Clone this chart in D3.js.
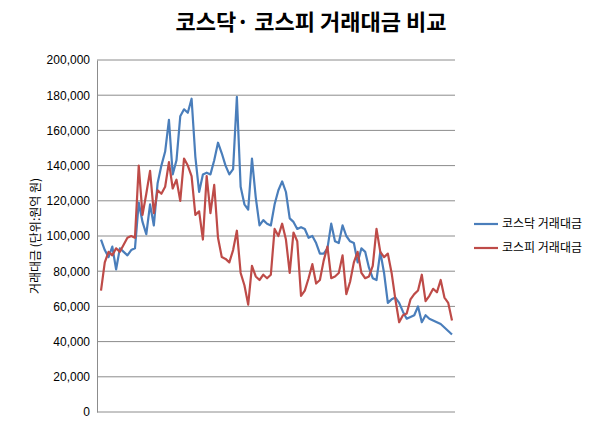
<!DOCTYPE html>
<html><head><meta charset="utf-8">
<script src="https://cdn.jsdelivr.net/npm/d3@7"></script>
<style>body{margin:0;background:#fff;font-family:"Noto Sans CJK KR",sans-serif}</style>
</head><body><svg id="chart" width="601" height="423"></svg>
<script>
// values in won (100M units)
var kosdaq = [98,92,88,94,81,93,91,89,92,93,119,108,101,118,106,130,140,148,166,135,143,168,172,170,178,145,125,135,136,135,143,153,147,140,135,138,179,128,118,115,144,122,106,109,107,106,118,126,131,125,110,108,104,105,104,99,100,96,90,90,93,107,97,96,106,100,97,96,85,93,91,82,76,75,91,79,62,64,65,62,57,53,54,55,60,51,55,53,52,51,50,48,46,44].map(d => d * 1000);
var kospi = [69,85,91,89,93,91,95,99,100,99,140,112,124,137,113,126,124,128,142,127,132,120,144,140,134,112,114,98,134,113,129,99,88,87,85,92,103,79,72,61,83,77,75,78,76,78,104,100,107,98,79,102,97,66,69,76,84,73,75,86,94,76,77,79,89,67,74,85,91,79,76,77,83,104,91,88,90,79,64,51,55,56,64,67,69,78,63,66,70,68,75,65,62,52].map(d => d * 1000);
var seriesNames = ["코스닥 거래대금", "코스피 거래대금"];
var colors = ["#4a7ebb", "#be4b48"];
var yTicks = d3.range(0, 200001, 20000);

var svg = d3.select("#chart");
var plotLeft = 97, plotRight = 455, plotTop = 60, plotBottom = 412;

var x = d3.scaleLinear().domain([0, kosdaq.length - 1]).range([plotLeft + 4, plotRight - 3]);
var y = d3.scaleLinear().domain([0, 200000]).range([plotBottom, plotTop]);

// gridlines
svg.append("g").selectAll("line").data(yTicks).join("line")
  .attr("x1", plotLeft).attr("x2", plotRight)
  .attr("y1", d => y(d)).attr("y2", d => y(d))
  .attr("stroke", "#8c8c8c").attr("stroke-width", 1);

var yAxis = svg.append("g").attr("transform", `translate(${plotLeft},0)`)
  .call(d3.axisLeft(y).tickValues(yTicks).tickFormat(d3.format(",")).tickSize(0).tickPadding(7));
yAxis.select(".domain").attr("stroke", "#8c8c8c");
yAxis.selectAll("text").attr("font-size", 12).attr("fill", "#000").attr("font-family", "Liberation Sans, sans-serif");

var line = d3.line().x((d, i) => x(i)).y(d => y(d));
[kosdaq, kospi].forEach((s, k) => {
  svg.append("path").datum(s).attr("d", line)
    .attr("fill", "none").attr("stroke", colors[k]).attr("stroke-width", 2.2)
    .attr("stroke-linejoin", "round");
});

// title
svg.append("text").attr("x", 311).attr("y", 30).attr("text-anchor", "middle")
  .attr("font-size", 22).attr("font-weight", "bold").text("코스닥· 코스피 거래대금  비교");

// y axis title
svg.append("text").attr("transform", "translate(40,236) rotate(-90)").attr("text-anchor", "middle")
  .attr("font-size", 12).text("거래대금 (단위:원억 원)");

// legend
seriesNames.forEach((n, k) => {
  var ly = 224 + k * 24;
  svg.append("line").attr("x1", 474).attr("x2", 498).attr("y1", ly).attr("y2", ly)
    .attr("stroke", colors[k]).attr("stroke-width", 2.2);
  svg.append("text").attr("x", 502).attr("y", ly + 4).attr("font-size", 12).text(n);
});
</script></body></html>
